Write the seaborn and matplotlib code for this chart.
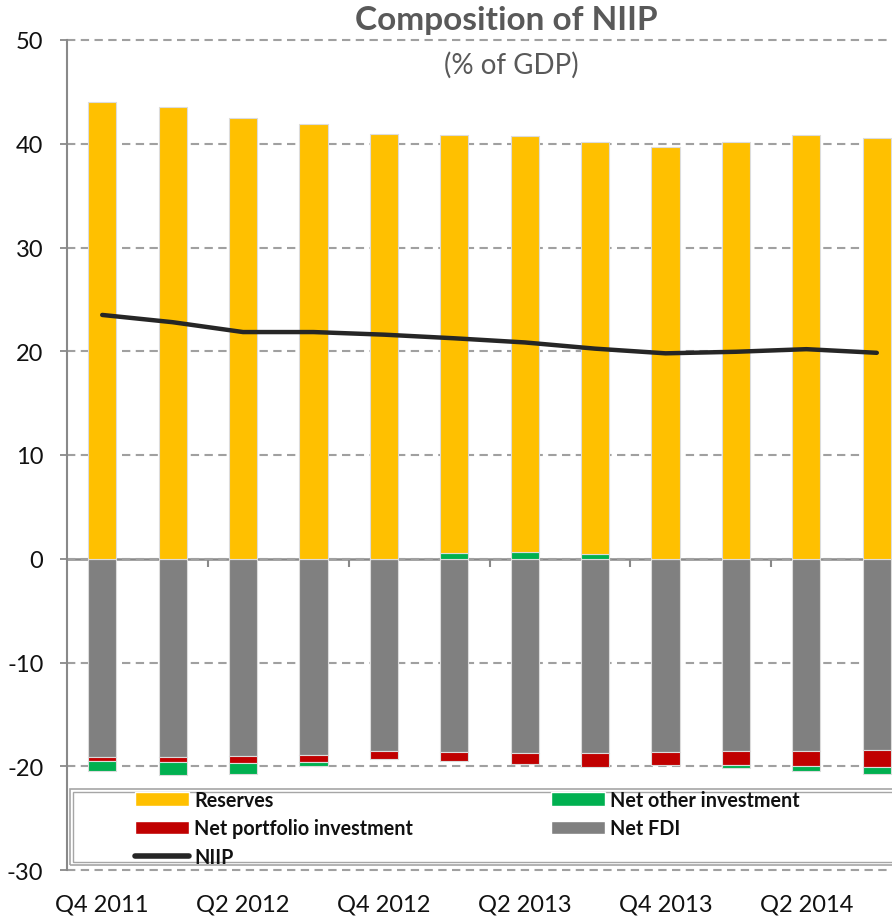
import numpy as np
import pandas as pd
import matplotlib
matplotlib.use("Agg")
import matplotlib.pyplot as plt
from matplotlib.patches import Patch, Rectangle
from matplotlib.lines import Line2D
import seaborn as sns

quarters = ["Q4 2011", "Q1 2012", "Q2 2012", "Q3 2012", "Q4 2012", "Q1 2013",
            "Q2 2013", "Q3 2013", "Q4 2013", "Q1 2014", "Q2 2014", "Q3 2014"]
reserves = [44.0, 43.5, 42.5, 41.9, 40.9, 40.25, 40.05, 39.75, 39.7, 40.2, 40.8, 40.6]
net_other = [-1.0, -1.2, -1.0, -0.4, 0.0, 0.55, 0.65, 0.45, 0.0, -0.3, -0.55, -0.65]
net_portfolio = [-0.4, -0.5, -0.7, -0.65, -0.8, -0.9, -1.05, -1.3, -1.3, -1.35, -1.45, -1.6]
net_fdi = [-19.1, -19.1, -19.0, -18.95, -18.5, -18.6, -18.75, -18.75, -18.6, -18.55, -18.5, -18.45]
niip = [23.5, 22.8, 21.85, 21.85, 21.6, 21.25, 20.85, 20.25, 19.8, 19.95, 20.2, 19.85]
y_ticks = [-30, -20, -10, 0, 10, 20, 30, 40, 50]
label_quarters = quarters[0::2]

C_RES = "#FFC000"
C_OTH = "#00B050"
C_POR = "#C00000"
C_FDI = "#808080"
C_LINE = "#262626"
C_AX = "#898989"

sns.set_theme(style="white")
plt.rcParams["font.family"] = ["Lato", "DejaVu Sans"]

fig = plt.figure(figsize=(8.92, 9.2), dpi=100)
ax = fig.add_axes([67 / 892, 49 / 920, 845 / 892, 830 / 920])

df = pd.DataFrame({"q": quarters, "res": reserves, "oth": net_other,
                   "por": net_portfolio, "fdi": net_fdi, "niip": niip})
oth = df["oth"].to_numpy()
oth_pos = np.clip(oth, 0, None)
oth_bottom = np.where(oth < 0, df["fdi"] + df["por"], 0.0)

bar_kw = dict(width=0.4, edgecolor="#dcdcdc", linewidth=0.8, ax=ax, order=quarters,
              saturation=1)
sns.barplot(data=df, x="q", y="fdi", color=C_FDI, bottom=0, **bar_kw)
sns.barplot(data=df, x="q", y="por", color=C_POR, bottom=df["fdi"].to_numpy(), **bar_kw)
sns.barplot(x=quarters, y=oth, color=C_OTH, bottom=oth_bottom, **bar_kw)
sns.barplot(data=df, x="q", y="res", color=C_RES, bottom=oth_pos, **bar_kw)
sns.lineplot(x=np.arange(len(quarters)), y=df["niip"], color=C_LINE, linewidth=3.2,
             ax=ax, solid_capstyle="round")

ax.set_xlim(-0.5, len(quarters) - 0.5)
ax.set_ylim(-30, 50)
ax.set_yticks(y_ticks)
ax.set_yticklabels([str(v) for v in y_ticks], fontsize=17, color="#111111")
ax.set_xticks(np.arange(0, len(quarters), 2))
ax.set_xticklabels(label_quarters, fontsize=17, color="#111111")
ax.set_xlabel("")
ax.set_ylabel("")
ax.tick_params(axis="x", length=0, pad=17)
ax.tick_params(axis="y", direction="out", length=5, width=1.3, color=C_AX, pad=12, left=True)

for s in ["top", "right", "bottom"]:
    ax.spines[s].set_visible(False)
ax.spines["left"].set_color(C_AX)
ax.spines["left"].set_linewidth(1.5)

ax.set_axisbelow(True)
ax.yaxis.grid(True, color="#a0a0a0", linestyle=(0, (4, 2.6)), linewidth=1.5)
ax.xaxis.grid(False)
for gl in ax.get_ygridlines():
    gl.set_clip_on(False)

# zero axis line with category separator ticks
sec = ax.secondary_xaxis(30 / 80)
sec.spines["bottom"].set_color(C_AX)
sec.spines["bottom"].set_linewidth(1.8)
sec.set_xticks(np.arange(1.5, len(quarters), 2))
sec.set_xticklabels([])
sec.tick_params(axis="x", direction="out", length=6, width=1.5, color=C_AX)

# title
fig.text(506 / 892, 1 - 30 / 920, "Composition of NIIP", ha="center", va="baseline",
         fontsize=24, fontweight="bold", color="#595959")
fig.text(511 / 892, 1 - 74 / 920, "(% of GDP)", ha="center", va="baseline",
         fontsize=20, color="#595959")

# legend
handles = [Patch(facecolor=C_RES), Patch(facecolor=C_POR),
           Line2D([0], [0], color=C_LINE, linewidth=4, solid_capstyle="round"),
           Patch(facecolor=C_OTH), Patch(facecolor=C_FDI)]
labels = ["Reserves", "Net portfolio investment", "NIIP", "Net other investment", "Net FDI"]
leg = ax.legend(handles, labels, ncol=2, frameon=False, loc="upper left",
                bbox_to_anchor=((135 - 67) / 845, (871 - 791) / 830),
                borderpad=0, borderaxespad=0, handlelength=2.75, handleheight=0.65,
                handletextpad=0.25, columnspacing=7.0, labelspacing=0.42,
                prop={"size": 14.2, "weight": "bold"})
for t in leg.get_texts():
    t.set_color("#111111")

x0 = (70 - 67) / 845
y0 = (871 - 866) / 830
h = (866 - 790) / 830
ax.add_patch(Rectangle((x0, y0), 1.0 - x0, h, transform=ax.transAxes, fill=False,
                       edgecolor="#a6a6a6", linewidth=1.2, clip_on=False, zorder=5))
d = 3 / 845
dy = 3 / 830
ax.add_patch(Rectangle((x0 + d, y0 + dy), 1.0 - x0 - 2 * d, h - 2 * dy, transform=ax.transAxes,
                       fill=False, edgecolor="#a6a6a6", linewidth=1.0, clip_on=False, zorder=5))

fig.savefig("out.png", dpi=100)
